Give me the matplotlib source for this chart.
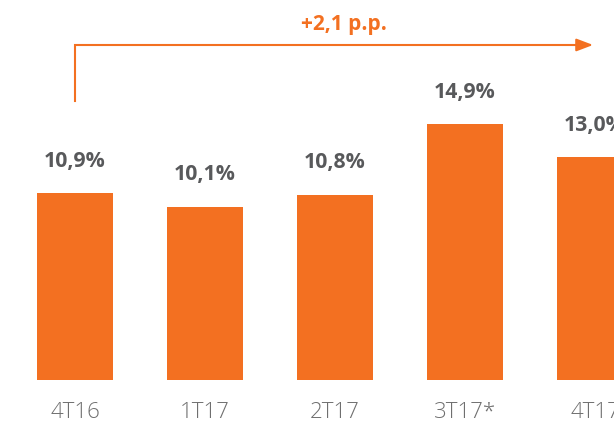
"""Quarterly margin bar chart with growth arrow."""

import matplotlib

matplotlib.use("Agg")
import matplotlib.pyplot as plt

# data
categories = ["4T16", "1T17", "2T17", "3T17*", "4T17"]
values = [10.9, 10.1, 10.8, 14.9, 13.0]
value_labels = ["10,9%", "10,1%", "10,8%", "14,9%", "13,0%"]
change_label = "+2,1 p.p."

ORANGE = "#F37021"
DARK = "#58595B"
LIGHT = "#6F6F6F"

plt.rcParams["font.family"] = ["Open Sans", "DejaVu Sans"]

fig = plt.figure(figsize=(6.14, 4.29), dpi=100)
ax = fig.add_axes([0, 0, 1, 1])

x = list(range(len(categories)))
ax.bar(x, values, width=0.585, color=ORANGE)

for xi, v, lab in zip(x, values, value_labels):
    ax.text(xi, v + 1.85, lab, ha="center", va="center",
            fontsize=15.3, fontweight="bold", color=DARK)

for xi, cat in zip(x, categories):
    ax.text(xi, -1.92, cat, ha="center", va="center",
            fontsize=16, fontweight="light", color=LIGHT)

# growth arrow
y_top = 19.52
ax.plot([0, 0, 3.9], [16.26, y_top, y_top], color=ORANGE, lw=1.5,
        solid_joinstyle="miter")
ax.annotate("", xy=(3.985, y_top), xytext=(3.85, y_top),
            arrowprops=dict(arrowstyle="-|>,head_length=1.0,head_width=0.38",
                            color=ORANGE, lw=1.5, shrinkA=0, shrinkB=0))
ax.text(2.07, 20.69, change_label, ha="center", va="center",
        fontsize=15, fontweight="bold", color=ORANGE)

ax.set_xlim(-0.577, 4.146)
ax.set_ylim(-2.855, 22.14)
ax.axis("off")

fig.savefig("out.png", dpi=100)
